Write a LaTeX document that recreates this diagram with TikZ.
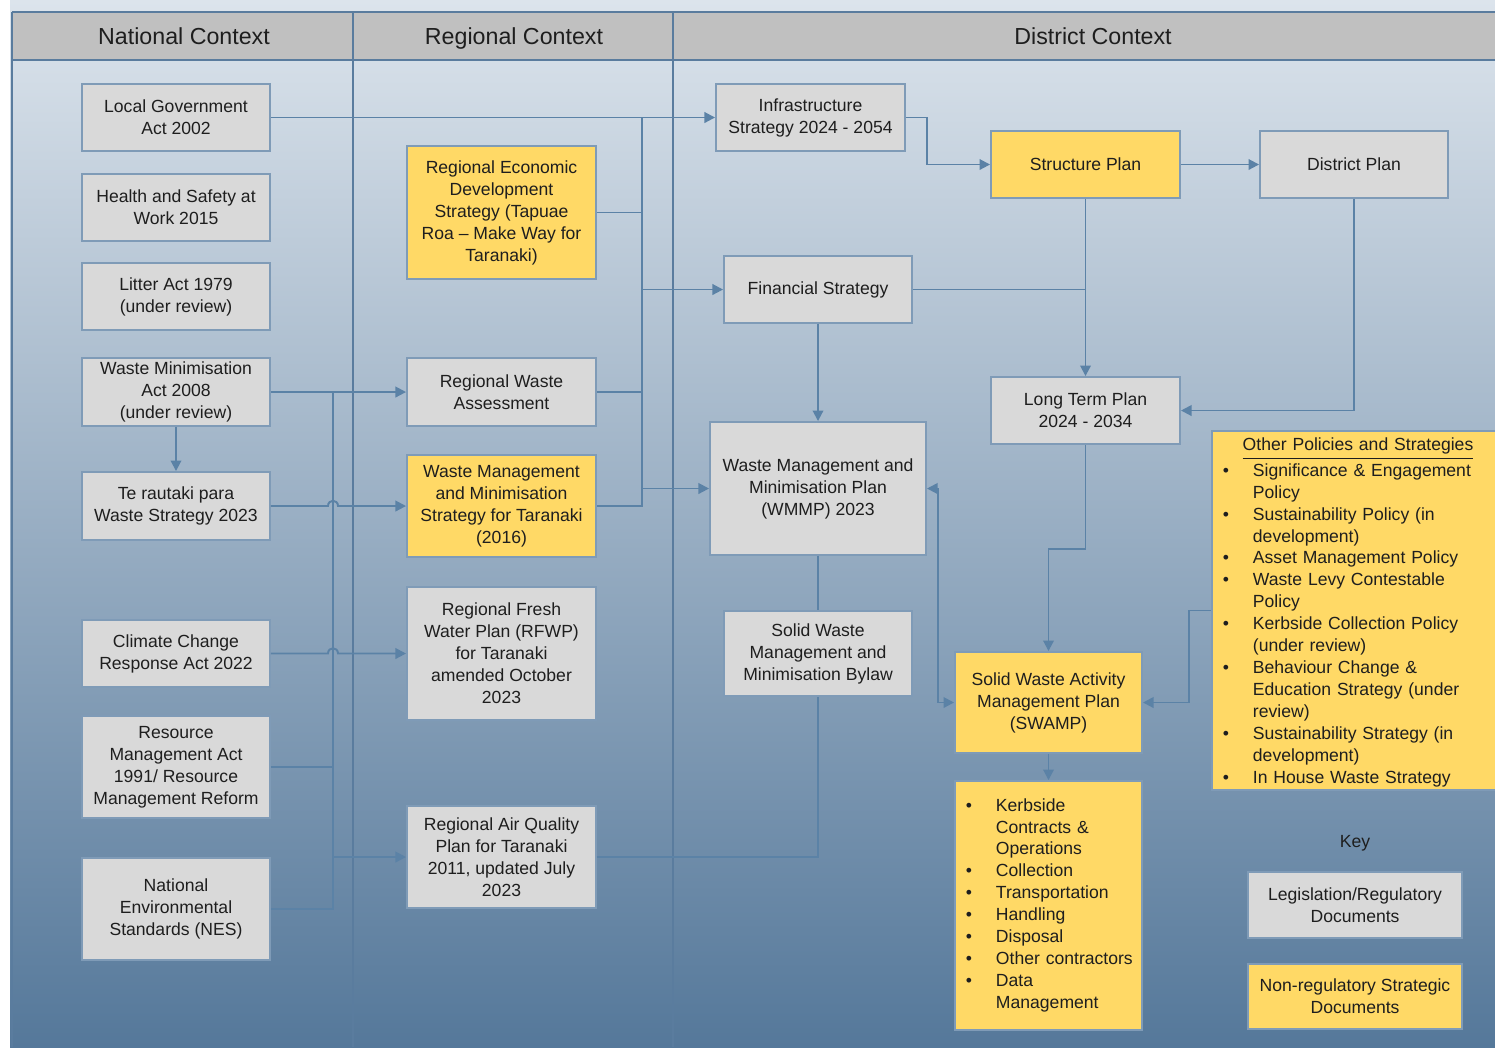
\documentclass[tikz,border=0pt]{standalone}
\usepackage{fontspec}
\setmainfont{Liberation Sans}
\usetikzlibrary{arrows.meta}
\definecolor{linec}{HTML}{5B82A6}
\definecolor{bordc}{HTML}{7F9BB7}
\definecolor{grayf}{HTML}{D9D9D9}
\definecolor{yelf}{HTML}{FFD966}
\definecolor{hdrf}{HTML}{C0C0C0}
\definecolor{txtc}{HTML}{1E1E1E}
\definecolor{bgtop}{HTML}{DCE4EC}
\definecolor{bgbot}{HTML}{55789A}
\definecolor{divc}{HTML}{5A7C9E}
\newcommand\boxfont{\fontsize{5pt}{6.25pt}\selectfont}
\newcommand\hdrfont{\fontsize{6.6pt}{8pt}\selectfont}
\begin{document}
\begin{tikzpicture}[x=0.01cm,y=-0.01cm,
  gbox/.style={draw=bordc, fill=grayf, line width=0.55pt, align=center, inner sep=0pt, font=\boxfont, text=txtc},
  ybox/.style={gbox, fill=yelf},
  conn/.style={draw=linec, line width=0.55pt},
  hdr/.style={font=\hdrfont, text=txtc, text height=1.6ex, text depth=0.35ex},
  >={Triangle[length=3pt,width=3pt]},
  sz/.style 2 args={minimum width=#1*0.01cm, minimum height=#2*0.01cm}
]
\useasboundingbox (0,0) rectangle (1495,1047);
\fill[white] (0,0) rectangle (1495,1047);
\shade[top color=bgtop, bottom color=bgbot] (10,0) rectangle (1495,1047);
\fill[hdrf] (12,12) rectangle (1495,60);
\draw[divc, line width=0.5pt] (12,12) -- (1495,12);
\draw[divc, line width=0.5pt] (12,60) -- (1495,60);
\draw[divc, line width=0.5pt] (12,12) -- (12,1047);
\draw[divc, line width=0.5pt] (353,12) -- (353,1047);
\draw[divc, line width=0.5pt] (673,12) -- (673,1047);
\node[hdr] (hn) at (184,33) {National Context};
\node[hdr] (hr) at (514,33) {Regional Context};
\node[hdr] (hd) at (1093,33) {District Context};

% National
\node[gbox, sz={188}{67}] (lga) at (176,117.5) {Local Government\\Act 2002};
\node[gbox, sz={188}{67}] (hsw) at (176,207.5) {Health and Safety at\\Work 2015};
\node[gbox, sz={188}{67}] (lit) at (176,296.5) {Litter Act 1979\\(under review)};
\node[gbox, sz={188}{68}] (wma) at (176,392) {Waste Minimisation\\Act 2008\\(under review)};
\node[gbox, sz={188}{68}] (te) at (176,506) {Te rautaki para\\Waste Strategy 2023};
\node[gbox, sz={188}{67}] (cc) at (176,653.5) {Climate Change\\Response Act 2022};
\node[gbox, sz={188}{102}] (rma) at (176,767) {Resource\\Management Act\\1991/ Resource\\Management Reform};
\node[gbox, sz={188}{102}] (nes) at (176,909) {National\\Environmental\\Standards (NES)};

% Regional
\node[ybox, sz={189}{133}] (reds) at (501.5,212.5) {Regional Economic\\Development\\Strategy (Tapuae\\Roa – Make Way for\\Taranaki)};
\node[gbox, sz={189}{68}] (rwa) at (501.5,392) {Regional Waste\\Assessment};
\node[ybox, sz={189}{102}] (wmms) at (501.5,506) {Waste Management\\and Minimisation\\Strategy for Taranaki\\(2016)};
\node[gbox, sz={189}{133}] (rfwp) at (501.5,653.5) {Regional Fresh\\Water Plan (RFWP)\\for Taranaki\\amended October\\2023};
\node[gbox, sz={189}{102}] (raq) at (501.5,857) {Regional Air Quality\\Plan for Taranaki\\2011, updated July\\2023};

% District
\node[gbox, sz={189}{67}] (infra) at (810.5,117.5) {Infrastructure\\Strategy 2024 - 2054};
\node[ybox, sz={189}{67}] (struct) at (1085.5,164.5) {Structure Plan};
\node[gbox, sz={188}{67}] (dplan) at (1354,164.5) {District Plan};
\node[gbox, sz={188}{67}] (fin) at (818,289.5) {Financial Strategy};
\node[gbox, sz={189}{67}] (ltp) at (1085.5,410.5) {Long Term Plan\\2024 - 2034};
\node[gbox, sz={216}{133}] (wmmp) at (818,488.5) {Waste Management and\\Minimisation Plan\\(WMMP) 2023};
\node[gbox, sz={188}{85}] (bylaw) at (818,653.5) {Solid Waste\\Management and\\Minimisation Bylaw};
\node[ybox, sz={187}{101}] (swamp) at (1048.5,702.5) {Solid Waste Activity\\Management Plan\\(SWAMP)};
\node[ybox, sz={187}{249}, align=left, inner xsep=0.11cm, text width=1.65cm] (kerb) at (1048.5,905.5)
 {\begin{tabular}{@{}p{0.3cm}@{}l@{}}
 \textbullet & Kerbside\\
 & Contracts \&\\
 & Operations\\
 \textbullet & Collection\\
 \textbullet & Transportation\\
 \textbullet & Handling\\
 \textbullet & Disposal\\
 \textbullet & Other contractors\\
 \textbullet & Data\\
 & Management
 \end{tabular}};
\node[ybox, sz={292}{359}, align=left, inner xsep=0.11cm, text width=2.7cm] (other) at (1358,610.5)
 {\begin{tabular}{@{}p{0.3cm}@{}p{2.4cm}@{}}
 \multicolumn{2}{@{}c@{}}{\rule{0pt}{1.1em}\underline{Other Policies and Strategies}}\\
 \textbullet & Significance \& Engagement\\
 & Policy\\
 \textbullet & Sustainability Policy (in\\
 & development)\\
 \textbullet & Asset Management Policy\\
 \textbullet & Waste Levy Contestable\\
 & Policy\\
 \textbullet & Kerbside Collection Policy\\
 & (under review)\\
 \textbullet & Behaviour Change \&\\
 & Education Strategy (under\\
 & review)\\
 \textbullet & Sustainability Strategy (in\\
 & development)\\
 \textbullet & In House Waste Strategy
 \end{tabular}};
\node[font=\boxfont, text=txtc] (key) at (1355,843) {Key};
\node[gbox, sz={214}{66}] (leg) at (1355,905) {Legislation/Regulatory\\Documents};
\node[ybox, sz={214}{65}] (nonreg) at (1355,996.5) {Non-regulatory Strategic\\Documents};

% National -> Regional
\coordinate (nb) at (333,392);
\draw[conn,->] (wma.east) -- (rwa.west);
\draw[conn] (nb) |- (nes.east);
\draw[conn] (rma.east) -- (rma.east -| nb);
\draw[conn,->] (nb |- raq.west) -- (raq.west);
\draw[conn,->] (te.east) -- (328,506) .. controls (328,499) and (338,499) .. (338,506) -- (wmms.west);
\draw[conn,->] (cc.east) -- (328,653.5) .. controls (328,646.5) and (338,646.5) .. (338,653.5) -- (rfwp.west);
\draw[conn,->] (wma.south) -- (te.north);

% Regional -> District
\coordinate (rb) at (642,117.5);
\draw[conn,->] (lga.east) -- (infra.west);
\draw[conn] (rb) |- (wmms.east);
\draw[conn] (reds.east) -- (reds.east -| rb);
\draw[conn] (rwa.east) -- (rwa.east -| rb);
\draw[conn,->] (rb |- fin.west) -- (fin.west);
\draw[conn,->] (rb |- wmmp.west) -- (wmmp.west);
\draw[conn] (raq.east) -| (bylaw.south);

% District
\draw[conn,->] (infra.east) -- ++(21,0) |- (struct.west);
\draw[conn,->] (struct.east) -- (dplan.west);
\draw[conn,->] (struct.south) -- (ltp.north);
\draw[conn] (fin.east) -- (fin.east -| struct.south);
\draw[conn,->] (dplan.south) |- (ltp.east);
\draw[conn,->] (fin.south) -- (wmmp.north);
\draw[conn] (wmmp.south) -- (bylaw.north);
\draw[conn,->] (ltp.south) -- ++(0,104) -| (swamp.north);
\draw[conn,<->] (wmmp.east) -- ++(11,0) |- (swamp.west);
\draw[conn,->] (other.west) -- ++(-22,0) |- (swamp.east);
\draw[conn,->] (swamp.south) -- (kerb.north);
\end{tikzpicture}
\end{document}
